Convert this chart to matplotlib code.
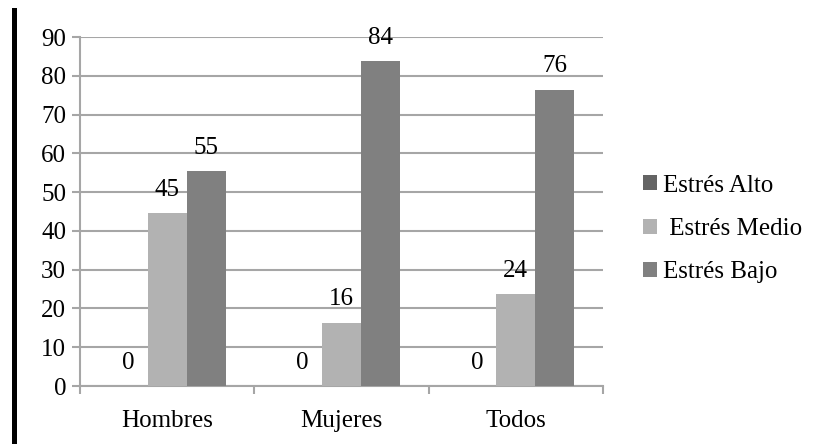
import matplotlib
matplotlib.use("Agg")
import matplotlib.pyplot as plt
from matplotlib.patches import Rectangle, Patch
import numpy as np

categories = ["Hombres", "Mujeres", "Todos"]
series_names = ["Estrés Alto", " Estrés Medio", "Estrés Bajo"]
alto = [0, 0, 0]
medio = [44.6, 16.3, 23.6]
bajo = [55.4, 83.7, 76.4]
y_ticks = [0, 10, 20, 30, 40, 50, 60, 70, 80, 90]

colors = ["#646464", "#b2b2b2", "#808080"]
grid_color = "#a6a6a6"

plt.rcParams["font.family"] = "serif"
plt.rcParams["font.serif"] = ["Liberation Serif", "Times New Roman", "DejaVu Serif"]
FS = 18

fig = plt.figure(figsize=(8.25, 4.44), dpi=100)
ax = fig.add_axes([80 / 825, 1 - 386 / 444, (603 - 80) / 825, (386 - 37) / 444])

x = np.arange(len(categories))
w = 0.224
for i, (vals, col) in enumerate(zip([alto, medio, bajo], colors)):
    pos = x + (i - 1) * w
    ax.bar(pos, vals, width=w, color=col, zorder=3, linewidth=0)
    for px, v in zip(pos, vals):
        ax.annotate(f"{v:.0f}", (px, v), xytext=(0, 12.5), textcoords="offset points",
                    ha="center", va="baseline", fontsize=FS, zorder=4)

ax.set_xlim(-0.5, 2.5)
ax.set_ylim(0, 90)
ax.set_yticks(y_ticks)
ax.set_yticklabels([str(t) for t in y_ticks], fontsize=FS)
ax.yaxis.grid(True, color=grid_color, linewidth=1.5, zorder=0)

# category labels at centers, tick marks at the boundaries
ax.set_xticks(x)
ax.set_xticklabels(categories, fontsize=FS)
ax.tick_params(axis="x", length=0, pad=17.5)
ax.set_xticks([-0.5, 0.5, 1.5, 2.5], minor=True)
ax.tick_params(axis="x", which="minor", length=6, width=1.5, color=grid_color)
ax.tick_params(axis="y", length=6, width=1.5, color=grid_color, pad=4)

for s in ["top", "right"]:
    ax.spines[s].set_visible(False)
for s in ["left", "bottom"]:
    ax.spines[s].set_color(grid_color)
    ax.spines[s].set_linewidth(1.5)

handles = [Patch(facecolor=c, edgecolor="none") for c in colors]
fig.legend(handles, series_names, loc="center left",
           bbox_to_anchor=(643 / 825, 1 - 229 / 444), frameon=False,
           fontsize=FS, handlelength=0.55, handleheight=0.55,
           handletextpad=0.25, labelspacing=0.85, borderpad=0, borderaxespad=0)

# heavy black rule along the left edge
fig.add_artist(Rectangle((12 / 825, 0), 5 / 825, 1 - 8 / 444,
                         transform=fig.transFigure, color="black", linewidth=0))

fig.savefig("out.png", dpi=100)
